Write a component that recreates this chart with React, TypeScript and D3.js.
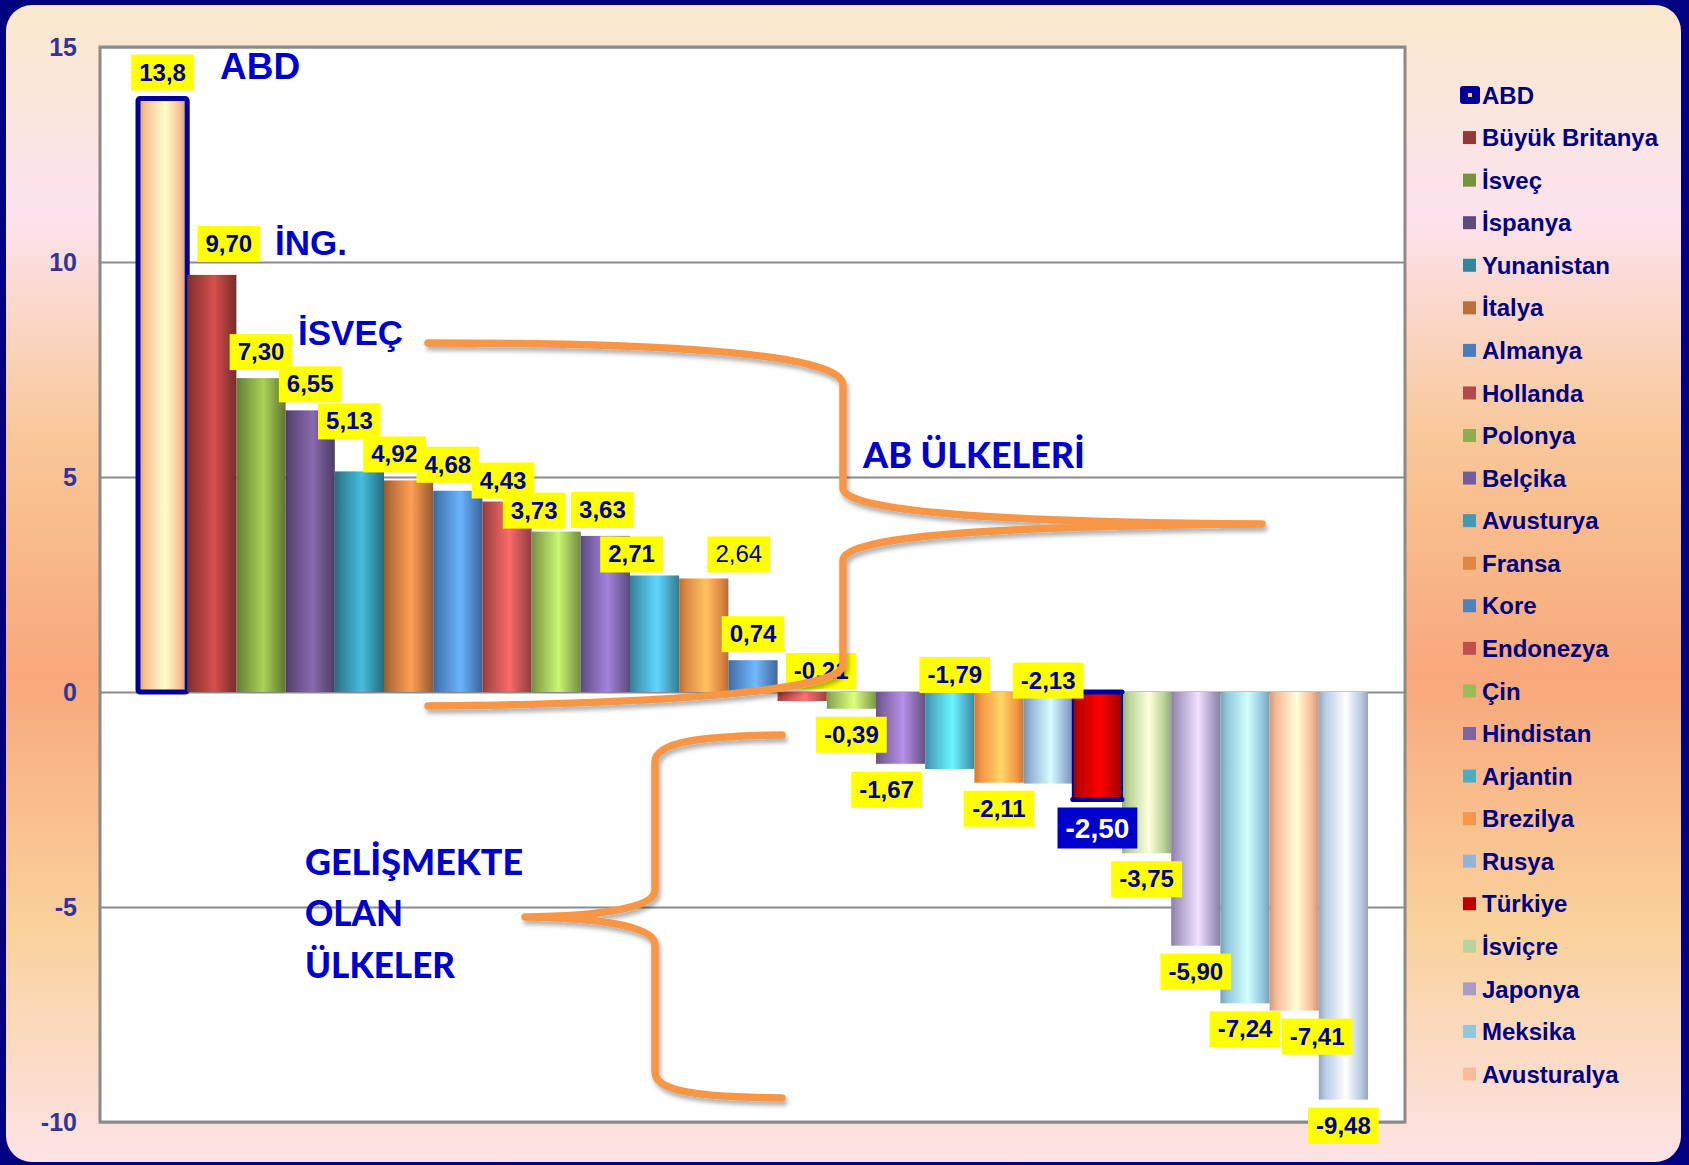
import React, { useEffect, useRef } from "react";
import * as d3 from "d3";

// legend entries (the last bar has no legend entry in the original)
const countries = [
  "ABD", "Büyük Britanya", "İsveç", "İspanya", "Yunanistan", "İtalya",
  "Almanya", "Hollanda", "Polonya", "Belçika", "Avusturya", "Fransa",
  "Kore", "Endonezya", "Çin", "Hindistan", "Arjantin", "Brezilya",
  "Rusya", "Türkiye", "İsviçre", "Japonya", "Meksika", "Avusturalya"
];

const values = [
  13.8, 9.7, 7.3, 6.55, 5.13, 4.92, 4.68, 4.43, 3.73, 3.63, 2.71, 2.64, 0.74,
  -0.21, -0.39, -1.67, -1.79, -2.11, -2.13, -2.5, -3.75, -5.9, -7.24, -7.41, -9.48
];

const valueLabels = [
  "13,8", "9,70", "7,30", "6,55", "5,13", "4,92", "4,68", "4,43", "3,73", "3,63",
  "2,71", "2,64", "0,74", "-0,21", "-0,39", "-1,67", "-1,79", "-2,11", "-2,13",
  "-2,50", "-3,75", "-5,90", "-7,24", "-7,41", "-9,48"
];

const barColors = [
  "#FAC090", "#953735", "#77933C", "#604A7B", "#31859C", "#B9703A",
  "#4A7EBB", "#B14B4B", "#8EAD50", "#725C9B", "#4298B5", "#DE8844",
  "#4F81BD", "#C0504D", "#9BBB59", "#8064A2", "#4BACC6", "#F79646",
  "#95B3D7", "#C00000", "#B8D49A", "#A99DC5", "#93C8DA", "#F9BB98", "#B9CDE5"
];

const yTicks = [15, 10, 5, 0, -5, -10];

// manual label nudges (px) as in the original slide
const labelNudge: Record<number, [number, number]> = {
  1: [17, -5], 4: [-10, -24], 5: [-14, 0], 6: [-10, 0], 7: [-4, 5], 8: [-22, 5],
  9: [-3, 0], 10: [-23, 5], 11: [35, 2], 13: [19, -56], 15: [-14, 0],
  16: [5, -120], 18: [0, -129], 23: [23, 0]
};

const ARIAL = "'Liberation Sans', Arial, sans-serif";
const NAVY = "#000090";
const BLUE = "#0000CC";

function textW(s: string, size: number) {
  let w = 0;
  for (const c of s) w += c === "," ? 0.278 : c === "-" ? 0.333 : 0.556;
  return w * size;
}

export default function App() {
  const ref = useRef<SVGSVGElement>(null);

  useEffect(() => {
    const W = 1689, H = 1165;
    const plot = { left: 100, top: 47, right: 1405, bottom: 1122 };
    const svg = d3.select(ref.current);
    svg.selectAll("*").remove();

    const defs = svg.append("defs");
    const bg = defs.append("linearGradient").attr("id", "bgGrad")
      .attr("x1", 0).attr("x2", 0).attr("y1", 0).attr("y2", 1);
    [[0, "#FBE9CC"], [0.18, "#FCE3EE"], [0.38, "#F9C796"], [0.58, "#F8A87B"],
     [0.8, "#FAD29C"], [1, "#FDE3E6"]].forEach(([o, c]) =>
      bg.append("stop").attr("offset", o as number).attr("stop-color", c as string));

    barColors.forEach((c, i) => {
      const base = d3.color(c)!;
      const gr = defs.append("linearGradient").attr("id", "bar" + i)
        .attr("x1", 0).attr("x2", 1).attr("y1", 0).attr("y2", 0);
      [[0, base.darker(0.55)], [0.14, base], [0.55, base.brighter(1)],
       [0.85, base], [1, base.darker(0.6)]].forEach(([o, col]) =>
        gr.append("stop").attr("offset", o as number).attr("stop-color", String(col)));
    });

    const sh = defs.append("filter").attr("id", "shadow")
      .attr("x", "-10%").attr("y", "-10%").attr("width", "130%").attr("height", "130%");
    sh.append("feDropShadow").attr("dx", 2).attr("dy", 4).attr("stdDeviation", 2)
      .attr("flood-color", "#000").attr("flood-opacity", 0.3);

    // frame
    svg.append("rect").attr("width", W).attr("height", H).attr("fill", "#000080");
    svg.append("rect").attr("x", 6).attr("y", 5).attr("width", 1675).attr("height", 1157)
      .attr("rx", 26).attr("fill", "url(#bgGrad)");

    svg.append("rect").attr("x", plot.left).attr("y", plot.top)
      .attr("width", plot.right - plot.left).attr("height", plot.bottom - plot.top)
      .attr("fill", "#fff");

    const y = d3.scaleLinear().domain([15, -10]).range([plot.top, plot.bottom]);
    const x = d3.scaleBand<number>().domain(d3.range(values.length))
      .range([138, 1368]).padding(0);
    const bw = x.bandwidth();

    // gridlines
    svg.append("g")
      .attr("transform", "translate(" + plot.left + ",0)")
      .call(d3.axisLeft(y).tickValues(yTicks).tickSize(-(plot.right - plot.left)).tickFormat(() => ""))
      .call(g => g.select(".domain").remove())
      .selectAll("line").attr("stroke", "#8c8c8c").attr("stroke-width", 2);

    // y labels
    svg.append("g")
      .attr("transform", "translate(" + plot.left + ",0)")
      .call(d3.axisLeft(y).tickValues(yTicks).tickSize(0).tickPadding(23).tickFormat(d => String(d)))
      .call(g => g.select(".domain").remove())
      .selectAll("text")
      .attr("fill", "#333399").style("font", "bold 25px " + ARIAL);

    svg.append("rect").attr("x", plot.left).attr("y", plot.top)
      .attr("width", plot.right - plot.left).attr("height", plot.bottom - plot.top)
      .attr("fill", "none").attr("stroke", "#8a8a8a").attr("stroke-width", 3);

    // bars
    svg.append("g").selectAll("rect").data(values).join("rect")
      .attr("x", (d, i) => x(i)!)
      .attr("width", bw)
      .attr("y", d => y(Math.max(0, d)))
      .attr("height", d => Math.abs(y(d) - y(0)))
      .attr("fill", (d, i) => "url(#bar" + i + ")")
      .attr("stroke", (d, i) => (i === 0 ? "#000099" : "none"))
      .attr("stroke-width", 5)
      .attr("rx", (d, i) => (i === 0 ? 2 : 0));

    // Türkiye outline: thick caps, thin sides
    const ti = 19;
    const tx0 = x(ti)!, ty0 = y(0), ty1 = y(values[ti]);
    const tk = svg.append("g").attr("stroke", "#000099").attr("stroke-linecap", "round");
    tk.append("line").attr("x1", tx0).attr("x2", tx0 + bw).attr("y1", ty0).attr("y2", ty0).attr("stroke-width", 5);
    tk.append("line").attr("x1", tx0).attr("x2", tx0 + bw).attr("y1", ty1).attr("y2", ty1).attr("stroke-width", 5);
    tk.append("line").attr("x1", tx0).attr("x2", tx0).attr("y1", ty0).attr("y2", ty1).attr("stroke-width", 2);
    tk.append("line").attr("x1", tx0 + bw).attr("x2", tx0 + bw).attr("y1", ty0).attr("y2", ty1).attr("stroke-width", 2);

    // value labels
    const lab = svg.append("g").selectAll("g").data(values).join("g");
    lab.each(function (v, i) {
      const big = i === 19;
      const fs = big ? 28 : 24;
      const h = big ? 41 : 36;
      const w = textW(valueLabels[i], fs) + 16;
      const [dx, dy] = labelNudge[i] || [0, 0];
      const cx = x(i)! + bw / 2 + dx;
      const top = v >= 0 ? y(v) - 8 - h + dy : y(v) + 8 + dy;
      const sel = d3.select(this);
      sel.append("rect").attr("x", cx - w / 2).attr("y", top).attr("width", w).attr("height", h)
        .attr("fill", big ? BLUE : "#FFFF00");
      sel.append("text").attr("x", cx).attr("y", top + (big ? 30 : 26))
        .attr("text-anchor", "middle")
        .attr("fill", big ? "#fff" : NAVY)
        .style("font-family", ARIAL)
        .style("font-size", fs + "px")
        .style("font-weight", i === 11 ? "normal" : "bold")
        .text(valueLabels[i]);
    });

    // annotations
    const ann = svg.append("g").attr("fill", BLUE);
    [["ABD", 220, 79, 37], ["İNG.", 275, 255, 35], ["İSVEÇ", 298, 345, 35]].forEach(([t, tx, ty, fs]) =>
      ann.append("text").attr("x", tx).attr("y", ty)
        .style("font", "bold " + fs + "px " + ARIAL).text(t as string));
    [["AB ÜLKELERİ", 863, 468, 222], ["GELİŞMEKTE", 305, 875, 218],
     ["OLAN", 305, 926, 98], ["ÜLKELER", 305, 978, 150]].forEach(([t, tx, ty, len]) =>
      ann.append("text").attr("x", tx).attr("y", ty)
        .attr("textLength", len).attr("lengthAdjust", "spacingAndGlyphs")
        .style("font", "900 36px Lato, 'Open Sans', sans-serif").text(t as string));

    // braces
    const braces = [
      "M428,343 C650,343 843,352 843,385 L843,488 C843,512 1000,522 1262,524 " +
        "C1000,526 843,536 843,560 L843,665 C843,692 650,704 428,706",
      "M782,735 C700,736 655,742 655,762 L655,890 C655,908 600,916 525,917 " +
        "C600,918 655,926 655,945 L655,1072 C655,1092 700,1097 782,1098"
    ];
    svg.append("g").attr("filter", "url(#shadow)").selectAll("path").data(braces).join("path")
      .attr("d", d => d).attr("fill", "none").attr("stroke", "#F79646")
      .attr("stroke-width", 7.5).attr("stroke-linecap", "round").attr("stroke-linejoin", "round");

    // legend
    const ly = d3.scalePoint<string>().domain(countries).range([95, 1074]);
    const leg = svg.append("g").selectAll("g").data(countries).join("g")
      .attr("transform", d => "translate(0," + ly(d) + ")");
    leg.each(function (d, i) {
      const sel = d3.select(this);
      if (i === 0) {
        sel.append("rect").attr("x", 1460).attr("y", -9).attr("width", 20).attr("height", 18)
          .attr("rx", 3).attr("fill", "#000099");
        sel.append("rect").attr("x", 1468).attr("y", -2).attr("width", 4).attr("height", 4)
          .attr("fill", barColors[0]);
      } else {
        sel.append("rect").attr("x", 1463).attr("y", -6.5).attr("width", 13).attr("height", 13)
          .attr("fill", barColors[i]);
      }
    });
    leg.append("text").attr("x", 1482).attr("dy", "0.36em")
      .attr("fill", "#000080").style("font", "bold 24px " + ARIAL)
      .text(d => d);
  }, []);

  return (
    <div style={{ position: "absolute", left: 0, top: 0 }}>
      <svg ref={ref} width={1689} height={1165} style={{ display: "block" }} />
    </div>
  );
}
